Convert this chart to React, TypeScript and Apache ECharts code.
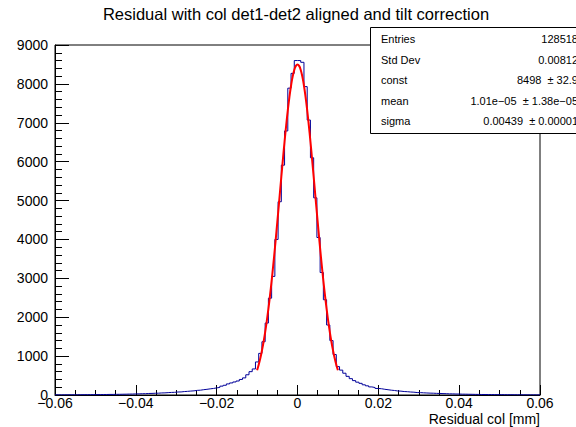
import React, { useEffect, useRef } from "react";
import * as echarts from "echarts";

// Histogram binning (x axis, Residual col [mm])
const xMin = -0.06;
const xMax = 0.06;
const binWidth = 0.0008;

// Bin counts from -0.06 up to 0 (75 bins)
const countsNeg = [
  5, 4, 5, 5, 6, 6, 7, 7, 8, 9, 9, 10, 11, 11, 13, 13, 15, 15, 17, 18,
  20, 21, 24, 25, 28, 29, 33, 34, 39, 41, 45, 47, 53, 55, 61, 66, 69, 77, 79, 88,
  94, 101, 107, 119, 124, 137, 146, 158, 168, 182, 196, 228, 250, 285, 310, 335, 360, 400, 440, 520,
  600, 670, 850, 1070, 1370, 1850, 2490, 3050, 4000, 4970, 5910, 6790, 7890, 8270, 8600,
];
// Bin counts from 0 up to 0.06 (75 bins)
const countsPos = [
  8600, 8555, 7930, 7070, 6100, 5070, 4050, 3150, 2450, 1800, 1400, 1040, 730, 640, 560, 480, 420, 370, 330, 300,
  262, 236, 208, 192, 168, 161, 147, 136, 124, 116, 104, 99, 89, 85, 77, 72, 63, 61, 56, 52,
  48, 46, 42, 40, 36, 34, 30, 29, 26, 25, 22, 21, 19, 18, 16, 15, 13, 13, 12, 11,
  10, 9, 9, 8, 7, 7, 6, 6, 5, 5, 4, 4, 4, 3, 3,
];

// Gaussian fit curve, read at x = -0.0100 ... 0.0100 every 0.0004
const fitStart = -0.01;
const fitStep = 0.0004;
const fitValues = [
  635, 778, 946, 1141, 1362, 1615, 1899, 2214, 2561, 2936, 3340, 3767, 4213, 4674, 5142, 5613, 6072, 6518, 6935, 7320,
  7660, 7952, 8186, 8358, 8463, 8498, 8463, 8358, 8186, 7952, 7660, 7320, 6935, 6518, 6072, 5613, 5142, 4674, 4213, 3767,
  3340, 2936, 2561, 2214, 1899, 1615, 1362, 1141, 946, 778, 635,
];

const yMin = 0;
const yMax = 9000;
const yInterval = 1000;
const xInterval = 0.02;

const titleText = "Residual with col det1-det2 aligned and tilt correction";
const xAxisTitle = "Residual col [mm]";
const statsLabels = ["Entries", "Std Dev", "const", "mean", "sigma"];
const statsValues = [
  "128518",
  "0.00812",
  "8498\u00a0\u00a0\u00b1 32.9",
  "1.01e\u221205\u00a0\u00a0\u00b1 1.38e\u221205",
  "0.00439\u00a0\u00a0\u00b1 0.00001",
];

const FONT = "'Liberation Sans', Arial, Helvetica, sans-serif";

function fmtX(v: number): string {
  if (Math.abs(v) < 1e-9) return "0";
  const s = Math.abs(v).toFixed(2);
  return v < 0 ? "\u2212" + s : s;
}

export default function App() {
  const ref = useRef<HTMLDivElement>(null);

  useEffect(() => {
    document.body.style.margin = "0";
    if (!ref.current) return;
    const chart = echarts.init(ref.current, undefined, { renderer: "svg" });

    const counts = countsNeg.concat(countsPos);
    const histData: [number, number][] = counts.map((c, i) => [xMin + i * binWidth, c]);
    histData.push([xMax, counts[counts.length - 1]]);

    const fitData: [number, number][] = fitValues.map((v, i) => [fitStart + i * fitStep, v]);

    const gridLeft = 55;
    const gridTop = 45;
    const gridRight = 540;
    const gridBottom = 395;

    const statsTop = 27;
    const rowH = 20.5;

    const graphics: any[] = [
      {
        type: "text",
        style: {
          text: titleText,
          x: 296,
          y: 14,
          align: "center",
          verticalAlign: "middle",
          font: `16.5px ${FONT}`,
          fill: "#000",
        },
      },
      {
        type: "text",
        style: {
          text: xAxisTitle,
          x: gridRight,
          y: 418.5,
          align: "right",
          verticalAlign: "middle",
          font: `14px ${FONT}`,
          fill: "#000",
        },
      },
      {
        type: "rect",
        z: 100,
        shape: { x: 370.5, y: statsTop + 0.5, width: 230, height: 106 },
        style: { fill: "#fff", stroke: "#000", lineWidth: 1 },
      },
    ];
    statsLabels.forEach((lab, i) => {
      graphics.push({
        type: "text",
        z: 101,
        style: {
          text: lab,
          x: 381,
          y: statsTop + 12 + i * rowH,
          align: "left",
          verticalAlign: "middle",
          font: `11px ${FONT}`,
          fill: "#000",
        },
      });
      graphics.push({
        type: "text",
        z: 101,
        style: {
          text: statsValues[i],
          x: 578,
          y: statsTop + 12 + i * rowH,
          align: "right",
          verticalAlign: "middle",
          font: `11px ${FONT}`,
          fill: "#000",
        },
      });
    });

    chart.setOption({
      animation: false,
      backgroundColor: "#fff",
      grid: {
        left: gridLeft,
        top: gridTop,
        width: gridRight - gridLeft,
        height: gridBottom - gridTop,
        show: true,
        borderColor: "#000",
        borderWidth: 1,
        backgroundColor: "transparent",
      },
      xAxis: {
        type: "value",
        min: xMin,
        max: xMax,
        interval: xInterval,
        axisLine: { show: true, onZero: false, lineStyle: { color: "#000", width: 1 } },
        axisTick: { show: true, inside: true, length: 10, lineStyle: { color: "#000" } },
        minorTick: { show: true, splitNumber: 4, length: 5, lineStyle: { color: "#000" } },
        splitLine: { show: false },
        axisLabel: {
          formatter: (v: number) => fmtX(v),
          color: "#000",
          fontFamily: FONT,
          fontSize: 14,
          margin: 1,
        },
      },
      yAxis: {
        type: "value",
        min: yMin,
        max: yMax,
        interval: yInterval,
        axisLine: { show: true, onZero: false, lineStyle: { color: "#000", width: 1 } },
        axisTick: { show: true, inside: true, length: 14, lineStyle: { color: "#000" } },
        minorTick: { show: true, splitNumber: 5, length: 7, lineStyle: { color: "#000" } },
        splitLine: { show: false },
        axisLabel: {
          formatter: (v: number) => String(Math.round(v)),
          color: "#000",
          fontFamily: FONT,
          fontSize: 14,
          margin: 7,
        },
      },
      series: [
        {
          type: "line",
          step: "end",
          data: histData,
          symbol: "none",
          lineStyle: { color: "#000099", width: 1 },
          z: 2,
        },
        {
          type: "line",
          data: fitData,
          smooth: true,
          symbol: "none",
          lineStyle: { color: "#ff0000", width: 2 },
          z: 3,
        },
      ],
      graphic: graphics,
    });

    return () => {
      chart.dispose();
    };
  }, []);

  return <div ref={ref} style={{ width: 576, height: 427 }} />;
}
